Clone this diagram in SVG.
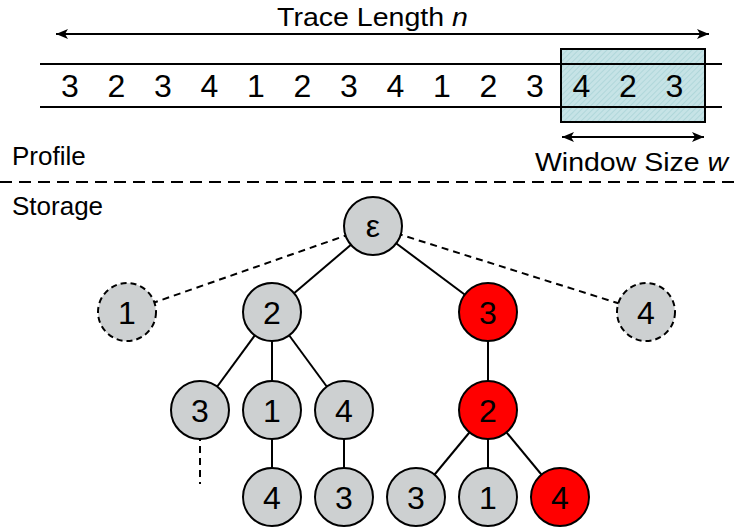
<svg xmlns="http://www.w3.org/2000/svg" width="734" height="529" viewBox="0 0 734 529">
<style>
text{font-family:"Liberation Sans",Arial,sans-serif;fill:#000}
.lbl{font-size:26px}
.num{font-size:32px;text-anchor:middle}
.nd{font-size:32px;text-anchor:middle}
.g{fill:#cdd0d1;stroke:#000;stroke-width:2}
.r{fill:#ff0000;stroke:#000;stroke-width:2}
.dc{stroke-dasharray:6,4}
.e{stroke:#000;stroke-width:2;fill:none}
.de{stroke-dasharray:7,5}
</style>
<defs>
<pattern id="hatch" width="4" height="4" patternUnits="userSpaceOnUse" patternTransform="rotate(45)">
<rect width="4" height="4" fill="#c6e3e6"/>
<line x1="0" y1="0" x2="0" y2="4" stroke="#a9d3d6" stroke-width="1.5"/>
</pattern>
<marker id="ah" markerWidth="14" markerHeight="12" refX="13" refY="6" orient="auto-start-reverse" markerUnits="userSpaceOnUse">
<path d="M1,1 L13,6 L1,11 L4,6 Z" fill="#000"/>
</marker>
</defs>
<g id="trace">
<rect x="561" y="49" width="144" height="73" fill="url(#hatch)" stroke="#000" stroke-width="2"/>
<line x1="40" y1="64" x2="722" y2="64" stroke="#000" stroke-width="2"/>
<line x1="40" y1="107" x2="722" y2="107" stroke="#000" stroke-width="2"/>
<text class="num" x="70" y="97">3</text>
<text class="num" x="116.5" y="97">2</text>
<text class="num" x="163" y="97">3</text>
<text class="num" x="209.5" y="97">4</text>
<text class="num" x="256" y="97">1</text>
<text class="num" x="302.5" y="97">2</text>
<text class="num" x="349" y="97">3</text>
<text class="num" x="395.5" y="97">4</text>
<text class="num" x="442" y="97">1</text>
<text class="num" x="488.5" y="97">2</text>
<text class="num" x="535" y="97">3</text>
<text class="num" x="581.5" y="97">4</text>
<text class="num" x="628" y="97">2</text>
<text class="num" x="674.5" y="97">3</text>
<line x1="56" y1="34" x2="709" y2="34" stroke="#000" stroke-width="2" marker-start="url(#ah)" marker-end="url(#ah)"/>
<text class="lbl" x="277" y="26" textLength="191" lengthAdjust="spacingAndGlyphs">Trace Length <tspan font-style="italic">n</tspan></text>
<line x1="562" y1="137" x2="704" y2="137" stroke="#000" stroke-width="2" marker-start="url(#ah)" marker-end="url(#ah)"/>
<text class="lbl" x="535" y="171" textLength="193" lengthAdjust="spacingAndGlyphs">Window Size <tspan font-style="italic">w</tspan></text>
<text class="lbl" x="12" y="165">Profile</text>
<line x1="0" y1="182" x2="734" y2="182" stroke="#000" stroke-width="2" stroke-dasharray="12,7"/>
<text class="lbl" x="12" y="215">Storage</text>
</g>
<g id="connectors">
<line class="e de" x1="373" y1="226" x2="127" y2="312"/>
<line class="e de" x1="373" y1="226" x2="646" y2="312"/>
<line class="e" x1="373" y1="226" x2="272" y2="312"/>
<line class="e" x1="373" y1="226" x2="488" y2="312"/>
<line class="e" x1="272" y1="312" x2="200" y2="410"/>
<line class="e" x1="272" y1="312" x2="272" y2="410"/>
<line class="e" x1="272" y1="312" x2="344" y2="410"/>
<line class="e" x1="488" y1="312" x2="488" y2="410"/>
<line class="e de" x1="200" y1="410" x2="200" y2="484"/>
<line class="e" x1="272" y1="410" x2="272" y2="497"/>
<line class="e" x1="344" y1="410" x2="344" y2="497"/>
<line class="e" x1="488" y1="410" x2="416" y2="497"/>
<line class="e" x1="488" y1="410" x2="488" y2="497"/>
<line class="e" x1="488" y1="410" x2="560" y2="497"/>
</g>
<g id="n-eps"><circle class="g" cx="373" cy="226" r="29"/><text class="nd" x="373" y="237">ε</text></g>
<g id="n-1"><circle class="g dc" cx="127" cy="312" r="29"/><text class="nd" x="127" y="324">1</text></g>
<g id="n-2"><circle class="g" cx="272" cy="312" r="29"/><text class="nd" x="272" y="324">2</text></g>
<g id="n-3"><circle class="r" cx="488" cy="312" r="29"/><text class="nd" x="488" y="324">3</text></g>
<g id="n-4"><circle class="g dc" cx="646" cy="312" r="29"/><text class="nd" x="646" y="324">4</text></g>
<g id="n-23"><circle class="g" cx="200" cy="410" r="29"/><text class="nd" x="200" y="422">3</text></g>
<g id="n-21"><circle class="g" cx="272" cy="410" r="29"/><text class="nd" x="272" y="422">1</text></g>
<g id="n-24"><circle class="g" cx="344" cy="410" r="29"/><text class="nd" x="344" y="422">4</text></g>
<g id="n-32"><circle class="r" cx="488" cy="410" r="29"/><text class="nd" x="488" y="422">2</text></g>
<g id="n-214"><circle class="g" cx="272" cy="497" r="29"/><text class="nd" x="272" y="509">4</text></g>
<g id="n-243"><circle class="g" cx="344" cy="497" r="29"/><text class="nd" x="344" y="509">3</text></g>
<g id="n-323"><circle class="g" cx="416" cy="497" r="29"/><text class="nd" x="416" y="509">3</text></g>
<g id="n-321"><circle class="g" cx="488" cy="497" r="29"/><text class="nd" x="488" y="509">1</text></g>
<g id="n-324"><circle class="r" cx="560" cy="497" r="29"/><text class="nd" x="560" y="509">4</text></g>
</svg>
